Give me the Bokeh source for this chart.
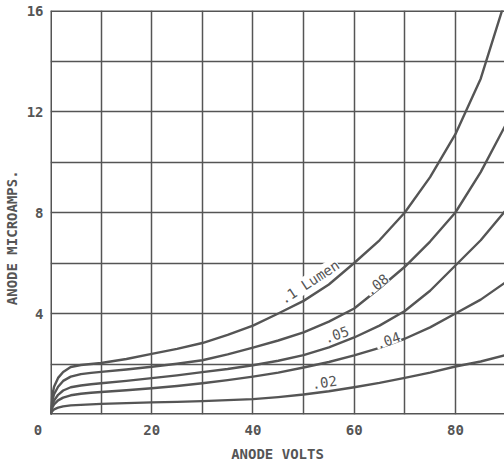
from bokeh.plotting import figure
from bokeh.models import Range1d, FixedTicker, Label, Span
from bokeh.embed import file_html
from bokeh.resources import INLINE

# ---- data ----
volts = [0, 0.3, 0.7, 1.5, 2.5, 4, 6, 8, 10, 15, 20, 25, 30, 35, 40, 45, 50,
         55, 60, 65, 70, 75, 80, 85, 90]
lumen_10 = [0, 0.7, 1.1, 1.45, 1.68, 1.88, 1.96, 2.0, 2.04, 2.2, 2.4, 2.6, 2.83,
            3.15, 3.52, 4.0, 4.5, 5.15, 6.0, 6.9, 8.0, 9.4, 11.1, 13.3, 16.5]
lumen_08 = [0, 0.5, 0.8, 1.1, 1.33, 1.5, 1.6, 1.65, 1.69, 1.78, 1.89, 2.01, 2.15,
            2.38, 2.65, 2.93, 3.25, 3.68, 4.2, 5.0, 5.85, 6.85, 8.0, 9.6, 11.5]
lumen_05 = [0, 0.35, 0.55, 0.78, 0.95, 1.08, 1.15, 1.2, 1.24, 1.33, 1.44, 1.55, 1.68,
            1.8, 1.95, 2.13, 2.35, 2.66, 3.05, 3.52, 4.1, 4.9, 5.9, 6.9, 8.1]
lumen_04 = [0, 0.25, 0.4, 0.56, 0.67, 0.76, 0.82, 0.86, 0.89, 0.96, 1.04, 1.13, 1.24,
            1.36, 1.5, 1.66, 1.86, 2.08, 2.34, 2.64, 3.0, 3.45, 4.0, 4.55, 5.25]
lumen_02 = [0, 0.12, 0.2, 0.27, 0.32, 0.36, 0.38, 0.4, 0.42, 0.45, 0.48, 0.5, 0.53,
            0.57, 0.61, 0.69, 0.79, 0.92, 1.08, 1.25, 1.45, 1.66, 1.9, 2.1, 2.36]
curve_labels = [".1 Lumen", ".08", ".05", ".04", ".02"]
x_tick_values = [0, 20, 40, 60, 80]
y_tick_values = [4, 8, 12, 16]
x_grid_values = [0, 10, 20, 30, 40, 50, 60, 70, 80, 90]
y_grid_values = [0, 2, 4, 6, 8, 10, 12, 14, 16]

INK = "#555555"
FONT = "DejaVu Sans Mono"
NB = "\u00a0"

p = figure(width=504, height=464,
           x_range=Range1d(0, 89.7), y_range=Range1d(0, 16),
           output_backend="svg", toolbar_location=None,
           min_border_left=50, min_border_right=0,
           min_border_top=10, min_border_bottom=44)
p.outline_line_color = None
p.background_fill_color = "white"
p.border_fill_color = "white"

p.xgrid.ticker = FixedTicker(ticks=x_grid_values)
p.ygrid.ticker = FixedTicker(ticks=y_grid_values)
for g in (p.xgrid, p.ygrid):
    g.grid_line_color = INK
    g.grid_line_width = 1.5
    g.grid_line_alpha = 1.0

# frame edges (left, bottom, top) that the grid does not draw at the range ends
p.add_layout(Span(location=0, dimension="height", line_color=INK, line_width=3))
p.add_layout(Span(location=0, dimension="width", line_color=INK, line_width=3))
p.add_layout(Span(location=16, dimension="width", line_color=INK, line_width=3))

p.xaxis.ticker = FixedTicker(ticks=x_tick_values)
p.yaxis.ticker = FixedTicker(ticks=y_tick_values)
p.xaxis.major_label_overrides = {0: "0" + NB * 3}
for ax in (p.xaxis, p.yaxis):
    ax.axis_line_color = None
    ax.major_tick_line_color = None
    ax.minor_tick_line_color = None
    ax.major_tick_in = 0
    ax.major_tick_out = 0
    ax.major_label_text_font = FONT
    ax.major_label_text_font_size = "14px"
    ax.major_label_text_font_style = "bold"
    ax.major_label_text_color = INK
    ax.major_label_standoff = 7
    ax.axis_label_text_font = FONT
    ax.axis_label_text_font_size = "14px"
    ax.axis_label_text_font_style = "bold"
    ax.axis_label_text_color = INK

p.xaxis.axis_label = "ANODE VOLTS"
p.xaxis.axis_label_standoff = 5
p.yaxis.axis_label = "ANODE MICROAMPS." + NB * 6
p.yaxis.axis_label_standoff = 4

for series in (lumen_10, lumen_08, lumen_05, lumen_04, lumen_02):
    p.line(volts, series, line_color=INK, line_width=2.4, line_join="round")

label_specs = [
    (51.2, 5.25, 33),
    (64.5, 5.14, 38),
    (56.5, 3.16, 20),
    (66.7, 2.93, 20),
    (54.1, 1.27, 8),
]
for text, (lx, ly, ang) in zip(curve_labels, label_specs):
    p.add_layout(Label(x=lx, y=ly, text=text, angle=ang, angle_units="deg",
                       text_align="center", text_baseline="middle",
                       text_font=FONT, text_font_size="14px", text_color=INK,
                       background_fill_color="white"))

open("out.html", "w").write(file_html(p, INLINE))
